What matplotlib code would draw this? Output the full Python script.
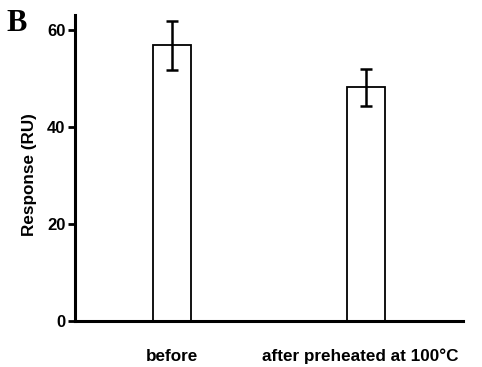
import matplotlib
matplotlib.use("Agg")
import matplotlib.pyplot as plt
import matplotlib.transforms as mtransforms

categories = ["before", "after preheated at 100°C"]
values = [56.9, 48.3]
errors = [5.1, 3.8]
yticks = [0, 20, 40, 60]

plt.rcParams['font.family'] = ['Liberation Sans', 'DejaVu Sans']

fig = plt.figure(figsize=(4.82, 3.67), dpi=100)
ax = fig.add_axes([0.1556, 0.1253, 0.805, 0.834])

xpos = [0.25, 0.75]
ax.bar(xpos, values, width=0.1, color='white', edgecolor='black', linewidth=1.3, zorder=2)
ax.errorbar(xpos, values, yerr=errors, fmt='none', ecolor='black', elinewidth=1.8,
            capsize=4, capthick=1.8, zorder=3)

ax.set_xlim(0, 1)
ax.set_ylim(0, 63.2)
ax.set_yticks(yticks)
ax.set_yticklabels([str(t) for t in yticks], fontsize=12, fontweight='bold')
ax.set_xticks(xpos)
ax.set_xticklabels(categories, fontsize=12.3, fontweight='bold')
ax.tick_params(axis='x', length=0, pad=20)
ax.tick_params(axis='y', length=5, width=2, pad=2)
labs = ax.get_xticklabels()
labs[1].set_transform(labs[1].get_transform() + mtransforms.ScaledTranslation(-0.06, 0, fig.dpi_scale_trans))
for s in ['top', 'right']:
    ax.spines[s].set_visible(False)
for s in ['left', 'bottom']:
    ax.spines[s].set_linewidth(2.2)
ax.set_ylabel("Response (RU)", fontsize=12.3, fontweight='bold')
ax.yaxis.set_label_coords(-0.097, 0.48)

fig.text(0.014, 0.975, "B", family='Liberation Serif', fontweight='bold', fontsize=22,
         va='top', ha='left')

fig.savefig("out.png", dpi=100)
